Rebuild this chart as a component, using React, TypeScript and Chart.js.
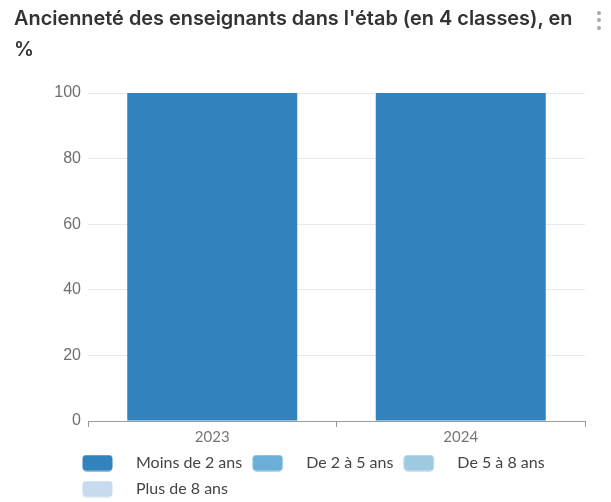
import React, { useEffect, useRef } from "react";
import { Chart, registerables } from "chart.js";

Chart.register(...registerables);

const categories = ["2023", "2024"];
const seriesNames = ["Moins de 2 ans", "De 2 à 5 ans", "De 5 à 8 ans", "Plus de 8 ans"];
const moinsDe2Ans = [100, 100];
const de2a5Ans = [0, 0];
const de5a8Ans = [0, 0];
const plusDe8Ans = [0, 0];
const seriesValues = [moinsDe2Ans, de2a5Ans, de5a8Ans, plusDe8Ans];
const seriesColors = ["#3182bd", "#6baed6", "#9ecae1", "#c6dbef"];
const yMin = 0;
const yMax = 100;
const yStep = 20;
const titleLine1 = "Ancienneté des enseignants dans l'étab (en 4 classes), en";
const titleLine2 = "%";

const SWATCH_W = 46;

function makeSwatch(color: string): HTMLCanvasElement {
  const c = document.createElement("canvas");
  c.width = SWATCH_W;
  c.height = 17;
  const ctx = c.getContext("2d")!;
  ctx.fillStyle = color;
  ctx.beginPath();
  (ctx as any).roundRect(0.5, 0.5, 30, 16, 4);
  ctx.fill();
  return c;
}

export default function App() {
  const canvasRef = useRef<HTMLCanvasElement | null>(null);

  useEffect(() => {
    const canvas = canvasRef.current;
    if (!canvas) return;
    const swatches = seriesColors.map(makeSwatch);
    const yFont = { family: "Liberation Sans", size: 16 };
    const mctx = document.createElement("canvas").getContext("2d")!;
    mctx.font = `16px "Liberation Sans"`;
    const widest = mctx.measureText(String(yMax)).width;
    const chart = new Chart(canvas, {
      type: "bar",
      data: {
        labels: categories,
        datasets: seriesNames.map((name, i) => ({
          label: name,
          data: seriesValues[i],
          backgroundColor: seriesColors[i],
          borderWidth: 0,
          categoryPercentage: 0.8,
          barPercentage: 0.855,
        })),
      },
      options: {
        animation: false,
        responsive: false,
        maintainAspectRatio: false,
        layout: { padding: { top: 93, left: 72, right: 26, bottom: 0 } },
        plugins: {
          title: { display: false },
          tooltip: { enabled: false },
          legend: {
            display: true,
            position: "bottom",
            align: "start",
            labels: {
              usePointStyle: true,
              pointStyleWidth: SWATCH_W,
              padding: 10,
              color: "#444",
              font: { family: "Lato", size: 16 },
              generateLabels: (ch: any) => {
                const items = (Chart.defaults.plugins.legend.labels as any).generateLabels(ch);
                return items.map((it: any, i: number) => ({
                  ...it,
                  pointStyle: swatches[i],
                  fontColor: "#444",
                }));
              },
            },
          },
        },
        scales: {
          x: {
            stacked: true,
            offset: true,
            grid: {
              display: true,
              drawOnChartArea: false,
              drawTicks: true,
              tickLength: 8,
              tickBorderDash: [5, 100],
              tickColor: "#9a9a9a",
              offset: true,
            },
            border: { display: true, color: "#9a9a9a", width: 1 },
            ticks: {
              color: "#777",
              padding: 1,
              font: { family: "Lato", size: 15, lineHeight: 14 / 15 },
            },
          },
          y: {
            stacked: true,
            min: yMin,
            max: yMax,
            afterFit: (s: any) => {
              s.width = 16;
            },
            grid: { color: "#e7eaf2", drawTicks: false, lineWidth: 1 },
            border: { display: false },
            ticks: {
              stepSize: yStep,
              color: "#6f6f6f",
              mirror: true,
              crossAlign: "far",
              padding: -7 - widest,
              font: yFont,
            },
          },
        },
      },
    } as any);
    return () => chart.destroy();
  }, []);

  return (
    <div
      style={{
        position: "absolute",
        left: 0,
        top: 0,
        width: 611,
        height: 502,
        overflow: "hidden",
        background: "#fff",
      }}
    >
      <canvas
        ref={canvasRef}
        width={611}
        height={507}
        style={{ position: "absolute", left: 0, top: 0, width: 611, height: 507 }}
      />
      <div
        style={{
          position: "absolute",
          left: 14,
          top: 3,
          fontFamily: "Inter, 'Liberation Sans', sans-serif",
          fontWeight: 600,
          fontSize: 19.9,
          lineHeight: "31px",
          color: "#333",
          whiteSpace: "nowrap",
        }}
      >
        {titleLine1}
        <br />
        {titleLine2}
      </div>
      {[13, 20, 28].map((y) => (
        <div
          key={y}
          style={{
            position: "absolute",
            left: 597,
            top: y - 2,
            width: 4,
            height: 4,
            borderRadius: 2,
            background: "#a8a8a8",
          }}
        />
      ))}
    </div>
  );
}
